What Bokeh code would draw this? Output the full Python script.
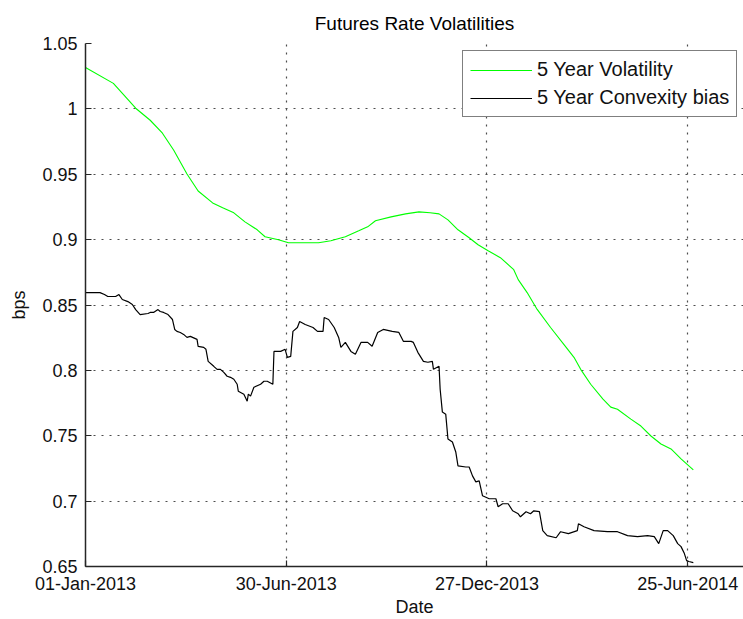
import pandas as pd
from bokeh.plotting import figure
from bokeh.models import (Range1d, FixedTicker, DatetimeTickFormatter,
                          CustomJSTickFormatter, Legend, LegendItem)
from bokeh.embed import file_html
from bokeh.resources import INLINE

# ---------------- data ----------------
start_date = "2013-01-01"
x_end_date = "2014-08-14"

# 5 Year Volatility: day offsets from start_date and values (bps)
vol_day = [0, 25, 45, 58, 69, 79, 91, 101, 114, 123, 133, 143, 154, 161, 173,
           182, 193, 209, 220, 233, 245, 253, 260, 274, 287, 299, 309, 317, 325,
           334, 344, 352, 361, 372, 384, 388, 396, 405, 417, 431, 438, 444, 453,
           464, 471, 477, 489, 498, 507, 516, 525, 534, 545]
vol_value = [1.0317, 1.0195, 1.0005, 0.9913, 0.9814, 0.9685, 0.9502, 0.9372,
             0.9281, 0.9243, 0.9205, 0.9136, 0.9075, 0.9022, 0.8999, 0.8976,
             0.8976, 0.8976, 0.8991, 0.9022, 0.9067, 0.9098, 0.9144, 0.9174,
             0.9197, 0.9212, 0.9205, 0.9197, 0.9151, 0.9075, 0.9014, 0.8961,
             0.8915, 0.8862, 0.8770, 0.8694, 0.8595, 0.8466, 0.8328, 0.8176,
             0.8100, 0.8008, 0.7894, 0.7780, 0.7719, 0.7703, 0.7627, 0.7574,
             0.7498, 0.7437, 0.7399, 0.7323, 0.7239]

# 5 Year Convexity bias
conv_day = [0, 6, 13, 17, 20, 27, 30, 33, 38, 42, 45, 49, 56, 58, 61, 65, 67, 70,
            74, 78, 80, 82, 85, 88, 91, 94, 100, 101, 106, 108, 110, 115, 118, 121,
            124, 127, 130, 133, 136, 137, 142, 145, 146, 148, 151, 157, 160, 163,
            168, 169, 175, 179, 181, 184, 186, 190, 192, 197, 204, 208, 213, 214,
            218, 223, 227, 229, 233, 238, 242, 247, 253, 257, 262, 267, 275, 281,
            285, 292, 294, 298, 303, 307, 311, 312, 317, 318, 320, 323, 325, 329,
            332, 334, 341, 344, 347, 350, 353, 356, 362, 368, 370, 374, 379, 383,
            388, 390, 395, 399, 402, 407, 410, 414, 422, 426, 433, 441, 442, 447,
            456, 468, 477, 486, 495, 504, 510, 514, 518, 522, 527, 531, 534, 537,
            539, 541, 545]
conv_value = [0.8595, 0.8595, 0.8595, 0.8580, 0.8565, 0.8565, 0.8580, 0.8542,
              0.8526, 0.8504, 0.8465, 0.8427, 0.8435, 0.8443, 0.8443, 0.8465,
              0.8450, 0.8443, 0.8427, 0.8389, 0.8313, 0.8298, 0.8290, 0.8275,
              0.8252, 0.8260, 0.8237, 0.8184, 0.8176, 0.8161, 0.8069, 0.8031,
              0.8008, 0.8008, 0.7985, 0.7955, 0.7947, 0.7932, 0.7894, 0.7841,
              0.7818, 0.7764, 0.7818, 0.7803, 0.7871, 0.7894, 0.7917, 0.7917,
              0.7894, 0.8145, 0.8145, 0.8161, 0.8100, 0.8107, 0.8298, 0.8328,
              0.8374, 0.8351, 0.8328, 0.8298, 0.8298, 0.8404, 0.8389, 0.8328,
              0.8252, 0.8176, 0.8214, 0.8145, 0.8123, 0.8214, 0.8214, 0.8184,
              0.8290, 0.8313, 0.8298, 0.8290, 0.8222, 0.8222, 0.8214, 0.8138,
              0.8069, 0.8062, 0.8069, 0.8008, 0.8031, 0.7856, 0.7681, 0.7665,
              0.7475, 0.7452, 0.7376, 0.7269, 0.7261, 0.7261, 0.7193, 0.7147,
              0.7155, 0.7041, 0.7018, 0.7018, 0.6957, 0.6980, 0.6980, 0.6926,
              0.6903, 0.6880, 0.6919, 0.6903, 0.6926, 0.6919, 0.6774, 0.6736,
              0.6720, 0.6766, 0.6751, 0.6774, 0.6827, 0.6804, 0.6774, 0.6766,
              0.6766, 0.6736, 0.6728, 0.6736, 0.6728, 0.6675, 0.6774, 0.6774,
              0.6736, 0.6675, 0.6652, 0.6599, 0.6545, 0.6538, 0.6530]

x_tick_dates = ["2013-01-01", "2013-06-30", "2013-12-27", "2014-06-25"]
y_ticks = [0.65, 0.70, 0.75, 0.80, 0.85, 0.90, 0.95, 1.00, 1.05]

series_labels = ["5 Year Volatility", "5 Year Convexity bias"]
series_colors = ["#00FF00", "#000000"]

# ---------------- build ----------------
t0 = pd.Timestamp(start_date)
vol_dates = t0 + pd.to_timedelta(vol_day, unit="D")
conv_dates = t0 + pd.to_timedelta(conv_day, unit="D")

FONT = "Liberation Sans"

p = figure(width=743, height=619, x_axis_type="datetime",
           x_range=Range1d(t0, pd.Timestamp(x_end_date)),
           y_range=Range1d(0.65, 1.05),
           output_backend="svg", toolbar_location=None,
           title="Futures Rate Volatilities",
           min_border_left=85, min_border_right=0,
           min_border_top=43, min_border_bottom=51)

p.background_fill_color = "white"
p.border_fill_color = "white"
p.outline_line_color = None

p.title.align = "center"
p.title.text_font = FONT
p.title.text_font_size = "19px"
p.title.text_font_style = "normal"
p.title.text_color = "black"
p.title.standoff = 19

r1 = p.line(vol_dates, vol_value, line_color=series_colors[0], line_width=1.1)
r2 = p.line(conv_dates, conv_value, line_color=series_colors[1], line_width=1.2)

p.xaxis.ticker = FixedTicker(ticks=[pd.Timestamp(d).value / 1e6 for d in x_tick_dates])
fmt = "%d-%b-%Y"
p.xaxis.formatter = DatetimeTickFormatter(days=fmt, months=fmt, years=fmt,
                                          hours=fmt, hourmin=fmt, minutes=fmt,
                                          minsec=fmt, seconds=fmt,
                                          milliseconds=fmt, microseconds=fmt)
p.yaxis.ticker = FixedTicker(ticks=y_ticks)
p.yaxis.formatter = CustomJSTickFormatter(code="return String(Math.round(tick*100)/100);")

for ax in (p.xaxis[0], p.yaxis[0]):
    ax.axis_line_color = "#262626"
    ax.axis_line_width = 1.5
    ax.major_tick_line_color = "#262626"
    ax.major_tick_line_width = 1.2
    ax.major_tick_in = 6
    ax.major_tick_out = 0
    ax.minor_tick_line_color = None
    ax.major_label_text_font = FONT
    ax.major_label_text_font_size = "18px"
    ax.major_label_text_color = "#111111"
    ax.axis_label_text_font = FONT
    ax.axis_label_text_font_size = "18px"
    ax.axis_label_text_font_style = "normal"
    ax.axis_label_text_color = "#111111"

p.xaxis.axis_label = "Date"
p.yaxis.axis_label = "bps"
p.xaxis.major_label_standoff = 7
p.xaxis.axis_label_standoff = 0
p.yaxis.major_label_standoff = 8
p.yaxis.axis_label_standoff = 10

p.grid.grid_line_color = "#4d4d4d"
p.grid.grid_line_dash = "2 6"
p.grid.grid_line_width = 1.2

legend = Legend(items=[LegendItem(label=series_labels[0], renderers=[r1]),
                       LegendItem(label=series_labels[1], renderers=[r2])],
                location=(377, 449))
legend.border_line_color = "black"
legend.border_line_width = 1
legend.background_fill_color = "white"
legend.background_fill_alpha = 1
legend.label_text_font = FONT
legend.label_text_font_size = "20px"
legend.label_text_color = "#111111"
legend.glyph_width = 62
legend.glyph_height = 20
legend.label_height = 20
legend.label_standoff = 5
legend.padding = 7
legend.spacing = 5
legend.margin = 0
p.add_layout(legend)

open("out.html", "w").write(file_html(p, INLINE))
